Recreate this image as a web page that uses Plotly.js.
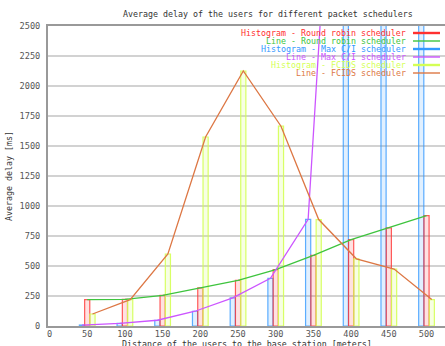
<!DOCTYPE html>
<html>
<head>
<meta charset="utf-8">
<script src="https://cdn.plot.ly/plotly-3.0.1.min.js"></script>
<style>
  html, body { margin: 0; padding: 0; background: #fff; }
  #chart { width: 445px; height: 346px; }
</style>
</head>
<body>
<div id="chart"></div>
<script>
// Distance of the users to the base station (meters)
const distances = [50, 100, 150, 200, 250, 300, 350, 400, 450, 500];

// Average delay per scheduler (ms)
const roundRobinDelay = [220, 222, 256, 318, 380, 470, 589, 720, 818, 920];
const maxCIDelay      = [8, 22, 48, 123, 234, 397, 889, 6000, 9500, 13000];
const fcidsDelay      = [100, 220, 600, 1575, 2125, 1665, 887, 560, 475, 220];

// Legend labels, in drawing order
const legendLabels = [
  "Histogram - Round robin scheduler",
  "Line - Round robin scheduler",
  "Histogram - Max C/I scheduler",
  "Line - Max C/I scheduler",
  "Histogram - FCIDS scheduler",
  "Line - FCIDS scheduler"
];

// Axis ticks
const xTicks = [0, 50, 100, 150, 200, 250, 300, 350, 400, 450, 500];
const yTicks = [0, 250, 500, 750, 1000, 1250, 1500, 1750, 2000, 2250, 2500];

const FONT = "DejaVu Sans Mono, monospace";
const COL = {
  rrBar:   "#ff3030",
  rrLine:  "#3ec43e",
  ciBar:   "#3399ff",
  ciLine:  "#cc55ff",
  fcBar:   "#d4ff55",
  fcLine:  "#dd7744"
};
const legendColors = [COL.rrBar, COL.rrLine, COL.ciBar, COL.ciLine, COL.fcBar, COL.fcLine];

// clustered boxes: Max C/I left, Round robin centre, FCIDS right
const BOX_W = 6.8;
const shift = (arr, dx) => arr.map(v => v + dx);

function fade(hex, a) {
  const n = parseInt(hex.slice(1), 16);
  return `rgba(${n >> 16},${(n >> 8) & 255},${n & 255},${a})`;
}

function barTrace(xs, ys, color, opacity) {
  return {
    type: "bar", x: xs, y: ys, width: BOX_W,
    marker: { color: fade(color, 0.18), line: { color: color, width: 1.2 } },
    opacity: opacity,
    hoverinfo: "skip", showlegend: false
  };
}
function lineTrace(xs, ys, color) {
  return {
    type: "scatter", mode: "lines", x: xs, y: ys,
    line: { color: color, width: 1.3 },
    hoverinfo: "skip", showlegend: false
  };
}

const ciX = shift(distances, -7);
const rrX = shift(distances, 0);
const fcX = shift(distances, 7);

const traces = [
  barTrace(ciX, maxCIDelay, COL.ciBar, 0.8),
  barTrace(rrX, roundRobinDelay, COL.rrBar, 0.8),
  barTrace(fcX, fcidsDelay, COL.fcBar, 0.9),
  lineTrace(rrX, roundRobinDelay, COL.rrLine),
  lineTrace(ciX, maxCIDelay, COL.ciLine),
  lineTrace(fcX, fcidsDelay, COL.fcLine)
];

// key: right-aligned labels with a short sample to the right
const plotL = 48, plotW = 397, plotB = 326, plotH = 300;
const keyTextRight = 408, keyTop = 33, keyStep = 8;
const sampleX0 = 413, sampleX1 = 440;

const annotations = legendLabels.map((label, i) => ({
  xref: "paper", yref: "paper",
  x: (keyTextRight - plotL) / plotW,
  y: (plotB - (keyTop + i * keyStep)) / plotH,
  xanchor: "right", yanchor: "middle",
  text: label, showarrow: false,
  font: { family: FONT, size: 8.3, color: legendColors[i] }
}));

// x axis title sits just under the tick labels, at the bottom edge
annotations.push({
  xref: "paper", yref: "paper",
  x: 0.5, y: (plotB - 344) / plotH,
  xanchor: "center", yanchor: "middle",
  text: "Distance of the users to the base station [meters]",
  showarrow: false,
  font: { family: FONT, size: 8.3, color: "#333" }
});

const shapes = [
  // key area is kept clear of grid lines
  {
    type: "rect", layer: "between", xref: "paper", yref: "paper",
    x0: (241 - plotL) / plotW, x1: 1.01,
    y0: (plotB - 79) / plotH, y1: 1,
    fillcolor: "#ffffff", line: { width: 0 }
  }
].concat(legendLabels.map((label, i) => ({
  type: "line", xref: "paper", yref: "paper",
  x0: (sampleX0 - plotL) / plotW, x1: (sampleX1 - plotL) / plotW,
  y0: (plotB - (keyTop + i * keyStep)) / plotH,
  y1: (plotB - (keyTop + i * keyStep)) / plotH,
  line: { color: legendColors[i], width: i % 2 === 0 ? 2.4 : 1.4 }
})));

const layout = {
  width: 445, height: 346,
  margin: { l: plotL, r: 0, t: 26, b: 20 },
  paper_bgcolor: "#ffffff", plot_bgcolor: "#ffffff",
  barmode: "overlay",
  showlegend: false,
  font: { family: FONT, size: 9, color: "#333" },
  title: {
    text: "Average delay of the users for different packet schedulers",
    font: { family: FONT, size: 8.3, color: "#333" },
    x: 246.5 / 445, xanchor: "center",
    y: 1 - 14 / 346, yanchor: "middle", xref: "paper", yref: "container"
  },
  xaxis: {
    range: [-2, 524.5],
    tickvals: xTicks, ticktext: xTicks.map(String),
    showgrid: false, zeroline: false,
    showline: true, linecolor: "#999", linewidth: 2, mirror: true,
    ticks: "", ticklabelstandoff: -1,
    tickfont: { family: FONT, size: 8.6, color: "#555" },
    automargin: false
  },
  yaxis: {
    range: [0, 2500],
    tickvals: yTicks, ticktext: yTicks.map(String),
    showgrid: true, gridcolor: "#d2d2d2", gridwidth: 1.5,
    zeroline: false,
    showline: true, linecolor: "#999", linewidth: 2,
    ticks: "", ticklabelstandoff: 4,
    tickfont: { family: FONT, size: 8.6, color: "#555" },
    title: {
      text: "Average delay [ms]",
      font: { family: FONT, size: 8.3, color: "#333" },
      standoff: 6
    },
    automargin: false
  },
  annotations: annotations,
  shapes: shapes
};

Plotly.newPlot("chart", traces, layout, { staticPlot: true, displayModeBar: false });
</script>
</body>
</html>
